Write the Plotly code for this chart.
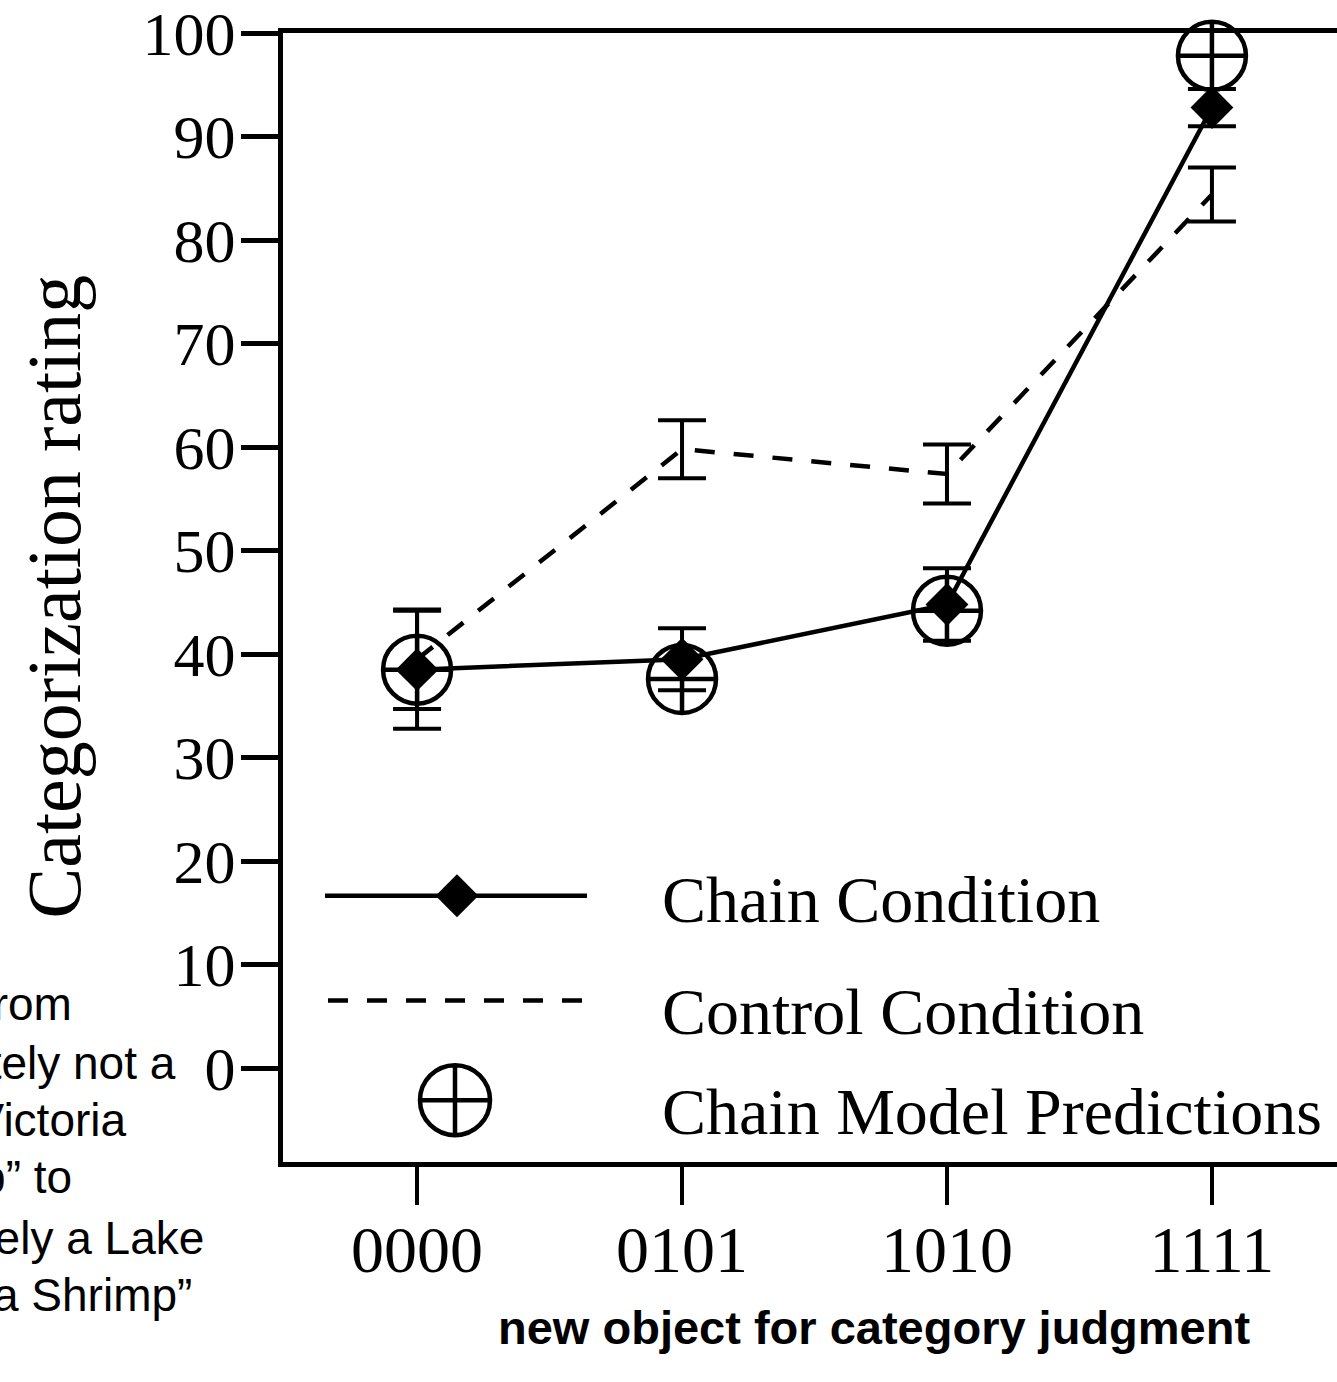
import plotly.graph_objects as go

# ---------------- data ----------------
categories = ["0000", "0101", "1010", "1111"]
chain_mean = [38.5, 39.5, 44.8, 92.8]
chain_err = [5.7, 3.0, 3.5, 1.8]
control_mean = [39.5, 59.8, 57.4, 84.4]
control_err = [4.8, 2.8, 2.85, 2.6]
model_pred = [38.5, 37.6, 44.2, 97.8]
y_ticks = [0, 10, 20, 30, 40, 50, 60, 70, 80, 90, 100]

legend_labels = ["Chain Condition", "Control Condition", "Chain Model Predictions"]
y_title = "Categorization rating"
x_title = "new object for category judgment"
side_lines = ["Rating scale from", "0 \u201cdefinitely not a", "Lake Victoria",
              "Shrimp\u201d to", "100 \u201cdefinitely a Lake", "Victoria Shrimp\u201d"]

# ---------------- layout geometry ----------------
W, H = 1337, 1382
ML, MR, MT, MB = 283, 0, 30, 220
PW, PH = W - ML - MR, H - MT - MB
XR = [-0.506, 3.472]
YR = [-9.06, 100]

SERIF = "Liberation Serif, Times New Roman, serif"
SANS = "Liberation Sans, Arial, Helvetica, sans-serif"


def px2x(px):
    return XR[0] + (px - ML) / PW * (XR[1] - XR[0])


def py2y(py):
    return YR[1] - (py - MT) / PH * (YR[1] - YR[0])


def pxp(px):
    return (px - ML) / PW


def pyp(py):
    return 1 - (py - MT) / PH


xs = list(range(len(categories)))

fig = go.Figure()

# control condition (dashed)
fig.add_trace(go.Scatter(
    x=xs, y=control_mean, mode="lines",
    line=dict(color="black", width=4.5, dash="20px,19px"),
    error_y=dict(type="data", array=control_err, visible=True,
                 color="black", thickness=4, width=24),
    showlegend=False, cliponaxis=False))

# chain condition (solid with diamonds)
fig.add_trace(go.Scatter(
    x=xs, y=chain_mean, mode="lines+markers",
    line=dict(color="black", width=4.5),
    marker=dict(symbol="diamond", size=33, color="black"),
    error_y=dict(type="data", array=chain_err, visible=True,
                 color="black", thickness=4, width=24),
    showlegend=False, cliponaxis=False))

# chain model predictions
fig.add_trace(go.Scatter(
    x=xs, y=model_pred, mode="markers",
    marker=dict(symbol="circle-cross-open", size=68, color="black",
                line=dict(width=4.5, color="black")),
    showlegend=False, cliponaxis=False))

# ---------------- custom legend ----------------
fig.add_trace(go.Scatter(
    x=[px2x(325), px2x(587)], y=[py2y(895), py2y(895)], mode="lines",
    line=dict(color="black", width=4.5), showlegend=False, hoverinfo="skip"))
fig.add_trace(go.Scatter(
    x=[px2x(457)], y=[py2y(895)], mode="markers",
    marker=dict(symbol="diamond", size=33, color="black"),
    showlegend=False, hoverinfo="skip"))
fig.add_trace(go.Scatter(
    x=[px2x(328), px2x(588)], y=[py2y(1000), py2y(1000)], mode="lines",
    line=dict(color="black", width=4.5, dash="20px,19px"),
    showlegend=False, hoverinfo="skip"))
fig.add_trace(go.Scatter(
    x=[px2x(455)], y=[py2y(1100)], mode="markers",
    marker=dict(symbol="circle-cross-open", size=70, color="black",
                line=dict(width=4.5, color="black")),
    showlegend=False, hoverinfo="skip"))

annotations = []
for label, cy in zip(legend_labels, [899, 1011, 1111]):
    annotations.append(dict(
        x=pxp(660), y=pyp(cy), xref="paper", yref="paper",
        text=label, showarrow=False, xanchor="left", yanchor="middle",
        font=dict(family=SERIF, size=66, color="black")))

# y-axis title
annotations.append(dict(
    x=pxp(54), y=pyp(595), xref="paper", yref="paper", text=y_title,
    textangle=-90, showarrow=False, xanchor="center", yanchor="middle",
    font=dict(family=SERIF, size=76, color="black")))

# x-axis title
annotations.append(dict(
    x=pxp(874), y=pyp(1328), xref="paper", yref="paper",
    text="<b>" + x_title + "</b>", showarrow=False,
    xanchor="center", yanchor="middle",
    font=dict(family=SANS, size=47, color="black")))

# side note (cut off at the left page edge, as in the reference)
side_right = [74, 178, 129, 74, 206, 194]
side_mid = [1004, 1063, 1120, 1177, 1238, 1295]
for txt, rx, cy in zip(side_lines, side_right, side_mid):
    annotations.append(dict(
        x=pxp(rx), y=pyp(cy), xref="paper", yref="paper", text=txt,
        showarrow=False, xanchor="right", yanchor="middle",
        font=dict(family=SANS, size=46, color="black")))

fig.update_layout(
    width=W, height=H,
    margin=dict(l=ML, r=MR, t=MT, b=MB, pad=0),
    paper_bgcolor="white", plot_bgcolor="white",
    showlegend=False,
    annotations=annotations,
    xaxis=dict(range=XR, tickmode="array", tickvals=xs, ticktext=categories,
               showline=True, linewidth=5, linecolor="black", mirror=True,
               ticks="outside", ticklen=38, tickwidth=4, tickcolor="black",
               ticklabelstandoff=-12, ticklabeloverflow="allow",
               tickfont=dict(family=SERIF, size=66, color="black"),
               showgrid=False, zeroline=False, fixedrange=True),
    yaxis=dict(range=YR, tickmode="array", tickvals=y_ticks,
               showline=True, linewidth=5, linecolor="black", mirror=False,
               ticks="outside", ticklen=37, tickwidth=5, tickcolor="black",
               ticklabelstandoff=-7, ticklabeloverflow="allow",
               tickfont=dict(family=SERIF, size=62, color="black"),
               showgrid=False, zeroline=False, fixedrange=True),
)

fig.write_html("out.html", config={"displayModeBar": False},
               post_script="document.body.style.margin='0px';document.body.style.overflow='hidden';")
